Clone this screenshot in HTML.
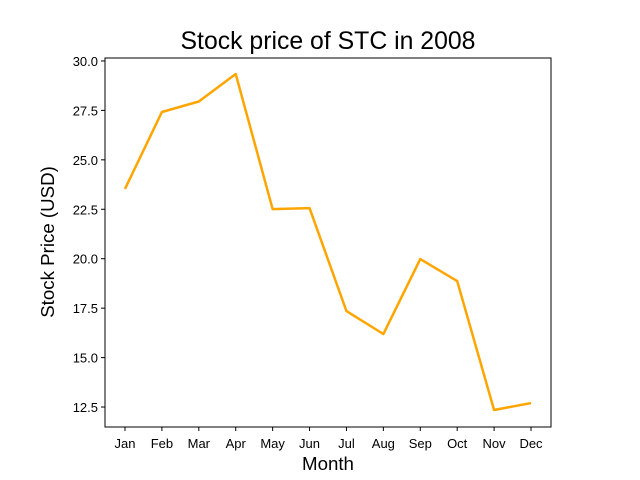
<!DOCTYPE html>
<html><head><meta charset="utf-8"><style>
body{margin:0;background:#fff}
svg{display:block;font-family:"Liberation Sans","DejaVu Sans",sans-serif}
</style></head><body>
<svg id="chart" width="640" height="480">
<text x="328" y="49" text-anchor="middle" font-size="24.8">Stock price of STC in 2008</text>
<text x="328" y="470" text-anchor="middle" font-size="18.7">Month</text>
<text transform="translate(54,242) rotate(-90)" text-anchor="middle" font-size="18.7">Stock Price (USD)</text>
<g id="plot"></g>
</svg>
<script>
const months=["Jan","Feb","Mar","Apr","May","Jun","Jul","Aug","Sep","Oct","Nov","Dec"];
const prices=[23.53,27.42,27.95,29.34,22.51,22.56,17.35,16.19,19.98,18.87,12.35,12.7];
const yTicks=[12.5,15.0,17.5,20.0,22.5,25.0,27.5,30.0];
const L=105,R=551,T=58,B=427;
const yMin=11.49,yMax=30.15;
const xs=i=>125+i*(531-125)/(months.length-1);
const ys=v=>B-(v-yMin)/(yMax-yMin)*(B-T);
const NS="http://www.w3.org/2000/svg",g=document.getElementById('plot');
function mk(t,a,p){const e=document.createElementNS(NS,t);for(const k in a)e.setAttribute(k,a[k]);(p||g).appendChild(e);return e;}
yTicks.forEach(v=>{const y=ys(v);
 const tk=mk('line',{x1:L-4,x2:L,y1:y,y2:y,stroke:'#000'});
 
 
 const t=mk('text',{x:L-7,y:y+5,'text-anchor':'end','font-size':13});t.textContent=v.toFixed(1);
 
 
});
months.forEach((m,i)=>{const x=xs(i);
 const tk=mk('line',{x1:x,x2:x,y1:B,y2:B+4,stroke:'#000'});
 
 
 const t=mk('text',{x:x,y:B+21,'text-anchor':'middle','font-size':13});t.textContent=m;
 
 
});
const line=mk('polyline',{points:prices.map((v,i)=>xs(i)+','+ys(v)).join(' '),fill:'none',stroke:'orange','stroke-width':2.5,'stroke-linejoin':'round'});


const fr=mk('rect',{x:L,y:T,width:R-L,height:B-T,fill:'none',stroke:'#000','stroke-width':1});


</script>
</body></html>
